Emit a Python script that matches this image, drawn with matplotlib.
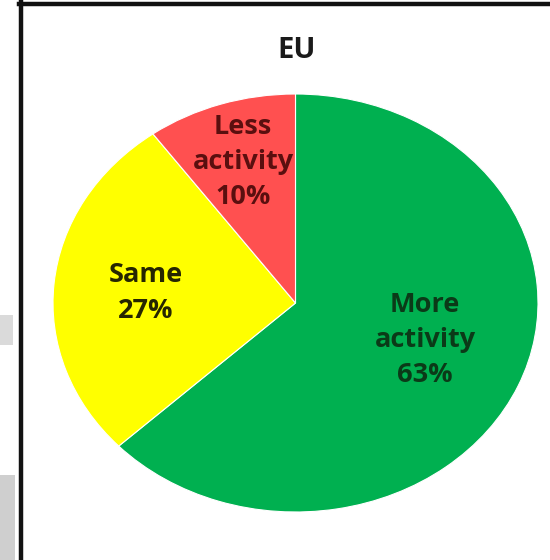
import matplotlib
matplotlib.use("Agg")
import matplotlib.pyplot as plt
from matplotlib.lines import Line2D
from matplotlib.patches import Rectangle

# Data
title = "EU"
categories = ["More\nactivity", "Same", "Less\nactivity"]
values = [63, 27, 10]
colors = ["#00B050", "#FFFF00", "#FF5050"]
text_colors = ["#0b3a18", "#262600", "#5a0f0f"]

W, H = 550, 560
fig = plt.figure(figsize=(W / 100, H / 100), dpi=100)
fig.patch.set_facecolor("white")

# pie axes (the reference is stretched horizontally -> ellipse)
left_px, right_px, top_px, bot_px = 53, 538, 94, 512
ax = fig.add_axes([left_px / W, 1 - bot_px / H, (right_px - left_px) / W, (bot_px - top_px) / H])
wedges, _ = ax.pie(values, colors=colors, startangle=90, counterclock=False,
                   wedgeprops=dict(edgecolor="white", linewidth=0.8))
ax.set_aspect("auto")
ax.set_xlim(-1, 1)
ax.set_ylim(-1, 1)
ax.axis("off")

# label anchor positions (axes data coords)
label_pos = [(0.534, -0.177), (-0.616, 0.048), (-0.216, 0.675)]
for cat, val, pos, tc in zip(categories, values, label_pos, text_colors):
    ax.text(pos[0], pos[1], f"{cat}\n{val}%", ha="center", va="center",
            fontsize=19.5, fontweight="bold", family="Open Sans", color=tc,
            linespacing=1.47)

fig.text(297 / W, 1 - 50 / H, title, ha="center", va="center", fontsize=21,
         fontweight="bold", family="Open Sans", color="#1a1a1a")

# frame of the original screenshot
fig.add_artist(Line2D([20.5 / W, 20.5 / W], [0, 1 - 2 / H], transform=fig.transFigure,
                      color="#111111", linewidth=3.2))
fig.add_artist(Line2D([19 / W, 1], [1 - 3.5 / H, 1 - 3.5 / H], transform=fig.transFigure,
                      color="#111111", linewidth=3.2))
# light grey artefacts at left edge
fig.add_artist(Rectangle((0, 0), 15 / W, 85 / H, transform=fig.transFigure,
                         facecolor="#cfcfcf", edgecolor="none"))
fig.add_artist(Rectangle((0, 1 - 345 / H), 13 / W, 30 / H, transform=fig.transFigure,
                         facecolor="#dadada", edgecolor="none"))

fig.savefig("out.png", dpi=100)
